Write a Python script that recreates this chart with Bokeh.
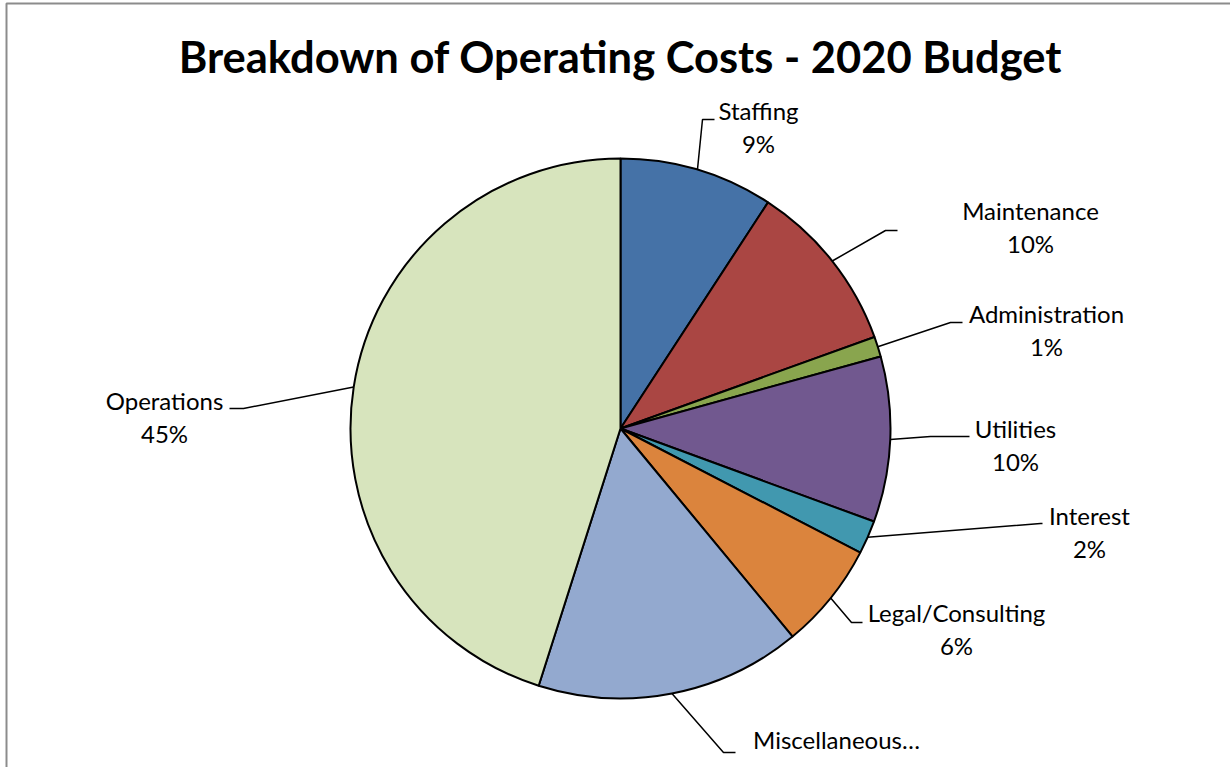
import math
from bokeh.plotting import figure
from bokeh.models import Range1d, ColumnDataSource
from bokeh.core.properties import value
from bokeh.embed import file_html
from bokeh.resources import INLINE

# ---- data ----
categories = ["Staffing", "Maintenance", "Administration", "Utilities",
              "Interest", "Legal/Consulting", "Miscellaneous", "Operations"]
shares = [9.2, 10.3, 1.2, 9.9, 2.0, 6.4, 15.9, 45.1]
label_names = ["Staffing", "Maintenance", "Administration", "Utilities",
               "Interest", "Legal/Consulting", "Miscellaneous\u2026", "Operations"]
show_pct = [True, True, True, True, True, True, False, True]
colors = ["#4572A7", "#AA4643", "#89A54E", "#71588F",
          "#4198AF", "#DB843D", "#93A9CF", "#D7E4BD"]
title_text = "Breakdown of Operating Costs - 2020 Budget"

# ---- layout (pixel coords, y measured from top) ----
W, H = 1230, 767
CX, CY, R = 620, 428, 270
# label text centres (x, y of first line)
label_pos = [(758, 110), (1030, 210), (1046, 313), (1015, 428),
             (1089, 515), (956, 612), (836, 739), (164, 400)]
# leader elbow and end points
leader_elbow = [(702, 119), (885, 230), (950, 322), (930, 436),
                (1040, 523), (851, 622), (723, 752), (243, 408)]
leader_end = [(714, 119), (897, 230), (962, 322), (969, 436),
              (1042, 523), (862, 622), (735, 752), (229, 408)]

FONT = "Lato"
LABEL_SIZE = "24px"

def fy(y):
    return H - y

p = figure(width=W, height=H, x_range=Range1d(0, W), y_range=Range1d(0, H),
           output_backend="svg", toolbar_location=None, min_border=0)
p.axis.visible = False
p.grid.visible = False
p.outline_line_color = None
p.background_fill_color = "white"
p.border_fill_color = "white"

# chart border
p.line(x=[6, 6, W + 10], y=[fy(H + 10), fy(3), fy(3)], line_color="#8c8c8c", line_width=2)

# wedges
total = sum(shares)
starts, ends, mids = [], [], []
acc = 0.0
for v in shares:
    a0 = math.pi / 2 - 2 * math.pi * acc / total
    acc += v
    a1 = math.pi / 2 - 2 * math.pi * acc / total
    starts.append(a0)
    ends.append(a1)
    mids.append((a0 + a1) / 2)

src = ColumnDataSource(dict(start=starts, end=ends, color=colors, cat=categories))
p.wedge(x=CX, y=fy(CY), radius=R, start_angle="start", end_angle="end",
        direction="clock", fill_color="color", line_color="black", line_width=2,
        source=src)

# leader lines and labels
for i, name in enumerate(label_names):
    sx = CX + R * math.cos(mids[i])
    sy = fy(CY) + R * math.sin(mids[i])
    ex, ey = leader_elbow[i]
    tx, ty = leader_end[i]
    p.line(x=[sx, ex, tx], y=[sy, fy(ey), fy(ty)], line_color="black", line_width=1.5)
    lx, ly = label_pos[i]
    p.text(x=[lx], y=[fy(ly)], text=[name], text_font=value(FONT),
           text_font_size=LABEL_SIZE, text_align="center", text_baseline="middle",
           text_color="black")
    if show_pct[i]:
        pct = f"{round(shares[i] / total * 100)}%"
        p.text(x=[lx], y=[fy(ly + 33)], text=[pct], text_font=value(FONT),
               text_font_size=LABEL_SIZE, text_align="center", text_baseline="middle",
               text_color="black")

# title
p.text(x=[620], y=[fy(55)], text=[title_text], text_font=value(FONT),
       text_font_size="43.5px", text_font_style="bold", text_align="center",
       text_baseline="middle", text_color="black")

open("out.html", "w").write(file_html(p, INLINE))
